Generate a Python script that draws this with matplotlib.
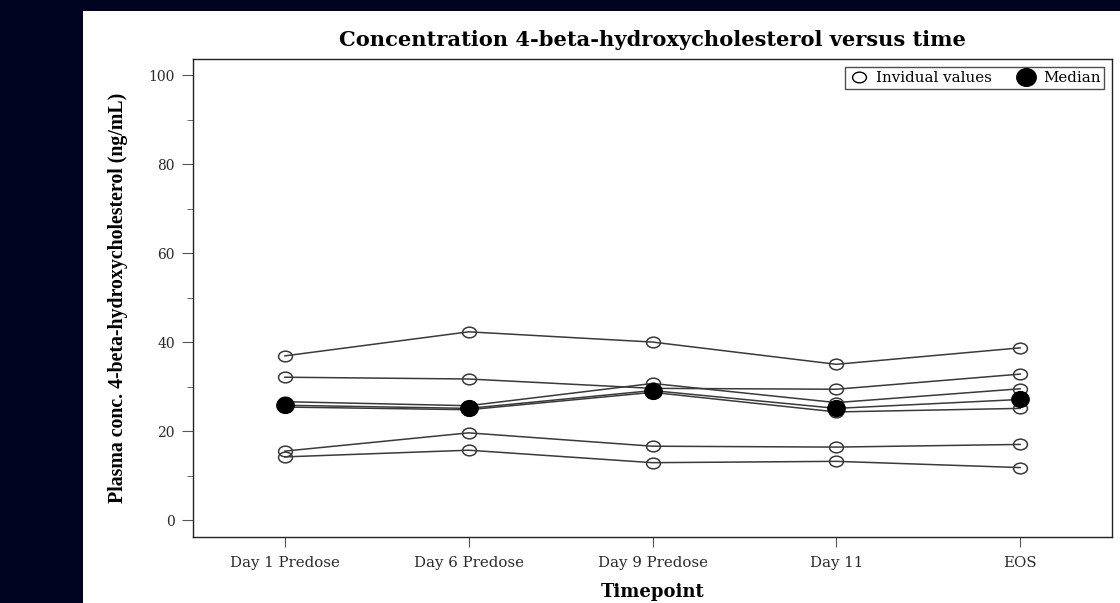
import numpy as np
import matplotlib
matplotlib.use("Agg")
import matplotlib.pyplot as plt
from matplotlib.patches import Rectangle
from matplotlib.lines import Line2D
from matplotlib.path import Path
from matplotlib.ticker import MultipleLocator

timepoints = ["Day 1 Predose", "Day 6 Predose", "Day 9 Predose", "Day 11", "EOS"]

# one list per subject (ng/mL)
subj_a = [36.9, 42.3, 40.0, 35.0, 38.7]
subj_b = [32.1, 31.7, 29.6, 29.4, 32.8]
subj_c = [26.6, 25.7, 30.7, 26.4, 29.5]
subj_d = [25.8, 25.1, 29.1, 25.1, 27.1]
subj_e = [25.4, 24.8, 28.7, 24.3, 25.1]
subj_f = [15.5, 19.6, 16.6, 16.4, 17.0]
subj_g = [14.2, 15.7, 12.9, 13.2, 11.8]
subjects = [subj_a, subj_b, subj_c, subj_d, subj_e, subj_f, subj_g]

median = np.median(np.array(subjects), axis=0)

plt.rcParams['font.family'] = ['DejaVu Serif']


def ellipse_marker(ratio):
    # the source picture is stretched sideways, so circles come out wide
    c = Path.unit_circle()
    v = c.vertices.copy()
    v[:, 1] = v[:, 1] / ratio
    return Path(v, c.codes)


open_mk = ellipse_marker(1.3)
fill_mk = ellipse_marker(1.1)

fig = plt.figure(figsize=(11.2, 6.03), dpi=100)
fig.patch.set_facecolor("#000420")
# white panel
panel = Rectangle((83 / 1120, 0), 1 - 83 / 1120, 1 - 11 / 603,
                  transform=fig.transFigure, facecolor="white",
                  edgecolor="none", zorder=-10)
fig.add_artist(panel)

ax = fig.add_axes([193 / 1120, 1 - 537 / 603, (1112 - 193) / 1120, (537 - 59) / 603])
ax.set_zorder(1)
x = np.arange(len(timepoints))
line_col = "#3a3a3a"
for s in subjects:
    ax.plot(x, s, color=line_col, lw=1.1, marker=open_mk, ms=10, mfc="none",
            mec=line_col, mew=1.1, zorder=2)
ax.plot(x, median, linestyle="none", marker=fill_mk, ms=12.5, color="black", zorder=3)

ax.set_xlim(-0.5, 4.5)
ax.set_ylim(-3.8, 103.6)
ax.set_xticks(x)
ax.set_xticklabels(timepoints, fontsize=10.8, color="#2a2a2a")
ax.yaxis.set_major_locator(MultipleLocator(20))
ax.yaxis.set_minor_locator(MultipleLocator(10))
ax.tick_params(axis="y", which="major", length=8, labelsize=10, labelcolor="#2a2a2a",
               color="#555555", pad=5)
ax.tick_params(axis="y", which="minor", length=4, color="#555555")
ax.tick_params(axis="x", length=7, color="#555555", pad=7)
for sp in ax.spines.values():
    sp.set_color("#222222")
    sp.set_linewidth(1.0)

ax.set_title("Concentration 4-beta-hydroxycholesterol versus time", fontsize=15.1,
             fontweight="bold", pad=9)
ax.set_xlabel("Timepoint", fontsize=13, fontweight="bold", labelpad=9)
ax.set_ylabel("Plasma conc. 4-beta-hydroxycholesterol (ng/mL)", fontsize=14.3,
              fontweight="bold", family=["Liberation Serif"])
ax.yaxis.set_label_coords((128 - 193) / 919, 0.5)

handles = [Line2D([], [], linestyle="none", marker=open_mk, ms=10, mfc="none", mec="black", mew=1.0),
           Line2D([], [], linestyle="none", marker=fill_mk, ms=14, color="black")]
leg = ax.legend(handles, ["Invidual values", "Median"], loc="upper right", ncol=2,
                fontsize=10.8, frameon=True, fancybox=False, edgecolor="#222222",
                borderpad=0.25, handletextpad=0.5, columnspacing=1.6, handlelength=1.3,
                borderaxespad=0, bbox_to_anchor=((1104 - 193) / 919, (537 - 67) / 478))
leg.get_frame().set_linewidth(1.0)

fig.savefig("out.png", dpi=100, facecolor=fig.get_facecolor())
